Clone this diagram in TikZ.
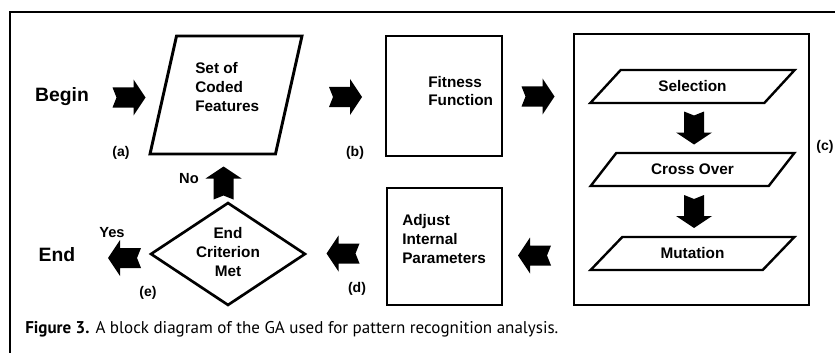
\documentclass[tikz,border=0pt]{standalone}
\usepackage{fontspec}
\setmainfont{Liberation Sans}
\newfontfamily\capfont{PT Sans}
\usetikzlibrary{shapes.geometric}

\begin{document}
\begin{tikzpicture}[
    x=0.75pt, y=-0.75pt,
    txt/.style={font=\bfseries\fontsize{11.5}{14}\selectfont, align=center, inner sep=0pt},
    tag/.style={font=\bfseries\fontsize{10.5}{12}\selectfont, inner sep=0pt},
    bigtxt/.style={font=\bfseries\fontsize{14.5}{17}\selectfont, inner sep=0pt},
    box/.style={draw, rectangle, inner sep=0pt},
    slant/.style={draw, trapezium, trapezium stretches=true, inner sep=2pt,
                  line join=miter},
    % --- one fat black arrow, pointing right; rotate it for the others ---
    pics/blockarrow/.style={code={
        \fill[black] (-16,-10) -- (5,-10) -- (5,-18) -- (17,0) -- (5,18)
              -- (5,10) -- (-16,10) -- (-12,0) -- cycle;
    }}
]
\useasboundingbox (0,0) rectangle (835,353);

% frame
\draw[line width=1pt] (835,12) -- (10,12) -- (10,353);

% =========================================================
% TOP ROW
% =========================================================
\node[bigtxt] (begin) at (62,97) {Begin};

\node[slant, line width=2.2pt, trapezium left angle=75, trapezium right angle=105,
      minimum width=114pt, minimum height=88.5pt] (set) at (226,95) {};
\node[txt, align=left, anchor=west] (settxt) at (195,87) {Set of\\Coded\\Features};
\node[tag] (la) at (121,153) {(a)};

\node[box, line width=2.2pt, minimum width=87pt, minimum height=90pt] (fit) at (444,96) {};
\node[txt, align=left, anchor=west, font=\bfseries\fontsize{11.5}{13.5}\selectfont]
      (fittxt) at (428,91) {Fitness\\Function};
\node[tag] (lb) at (355,153) {(b)};

% the GA loop box
\node[box, line width=1.5pt, minimum width=176.25pt, minimum height=203.25pt] (ga) at (691.5,169.5) {};
\node[slant, txt, line width=1.8pt, trapezium left angle=38, trapezium right angle=142,
      minimum width=153.75pt, minimum height=24.75pt] (sel) at (692.5,86.5) {Selection};
\node[slant, txt, line width=1.8pt, trapezium left angle=38, trapezium right angle=142,
      minimum width=153.75pt, minimum height=24.75pt] (cross) at (692.5,169.5) {Cross Over};
\node[slant, txt, line width=1.8pt, trapezium left angle=38, trapezium right angle=142,
      minimum width=153.75pt, minimum height=24.75pt] (mut) at (692.5,253.5) {Mutation};
\node[tag] (lc) at (825,147) {(c)};

% =========================================================
% BOTTOM ROW
% =========================================================
\node[box, line width=1.6pt, minimum width=86.25pt, minimum height=87.75pt] (adj) at (444.5,246.5) {};
\node[txt, align=left, anchor=west] (adjtxt) at (402,239) {Adjust\\Internal\\Parameters};
\node[tag] (ld) at (357,289) {(d)};

\node[draw, diamond, line width=2pt, inner sep=0pt,
      minimum width=116.25pt, minimum height=77.25pt] (crit) at (228,254) {};
\node[txt] (crittxt) at (228,252) {End\\Criterion\\Met};
\node[tag] (le) at (148,293) {(e)};

\node[tag, font=\bfseries\fontsize{11}{13}\selectfont] (no) at (189,179) {No};
\node[tag, font=\bfseries\fontsize{11}{13}\selectfont] (yes) at (112,233) {Yes};
\node[bigtxt] (end) at (57,255) {End};

% fat arrows
\pic at (128.5,97.5) {blockarrow};
\pic at (345,97) {blockarrow};
\pic at (537.5,96.5) {blockarrow};
\pic[rotate=-90] at (694,127.5) {blockarrow};
\pic[rotate=-90] at (694,211) {blockarrow};
\pic[rotate=180] at (535,255.5) {blockarrow};
\pic[rotate=180] at (343.5,253.5) {blockarrow};
\pic[rotate=180] at (125,258) {blockarrow};
\pic[rotate=90] at (223.5,183.5) {blockarrow};

% caption
\node[anchor=base west, inner sep=0pt, font=\capfont\fontsize{12.75}{15}\selectfont]
      (cap) at (25,333) {\textbf{Figure 3.} A block diagram of the GA used for pattern recognition analysis.};

\end{tikzpicture}
\end{document}
